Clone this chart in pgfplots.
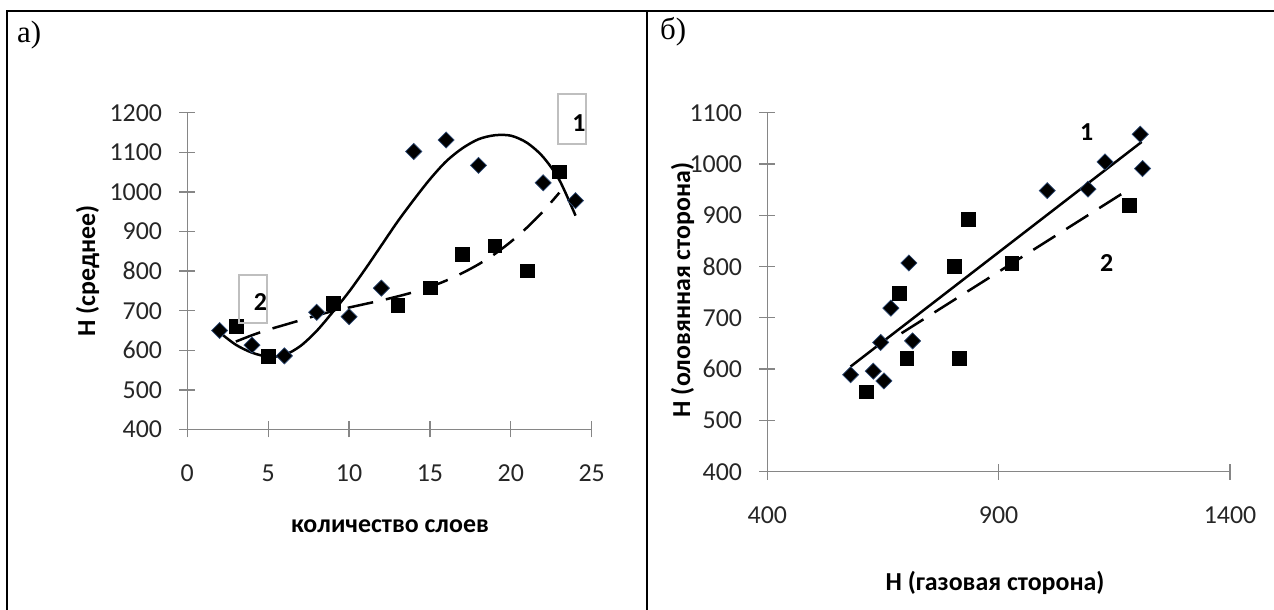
\documentclass[border=0pt]{standalone}
\usepackage{fontspec}
\setmainfont{Carlito}
\newfontfamily\timesf{Liberation Serif}
\usepackage{pgfplots}
\pgfplotsset{compat=1.18}
\definecolor{axgray}{HTML}{868686}
\definecolor{boxgray}{HTML}{BFBFBF}
\definecolor{dedge}{HTML}{2E4A75}
\pgfplotsset{
  excelaxis/.style={
    scale only axis, axis lines*=left,
    axis line style={axgray, line width=1.3bp},
    major tick style={axgray, line width=1.3bp},
    tick align=center, major tick length=16bp,
    minor tick num=0,
    ticklabel style={font=\fontsize{26}{26}\selectfont, inner sep=0pt, text=black!85},
    /pgf/number format/assume math mode=true,
    /pgf/number format/1000 sep={},
    clip=false,
  },
  diam/.style={only marks, mark=square*, mark size=5.7bp,
    mark options={rotate=45, fill=black, draw=dedge, line width=0.7bp}},
  sqr/.style={only marks, mark=square*, mark size=6.9bp,
    mark options={fill=black, draw=black, line width=0.3bp}},
  trsolid/.style={no marks, black, line width=2.5bp},
  trdash/.style={no marks, black, line width=2.5bp, dash pattern=on 26bp off 13bp},
}
\begin{document}
\begin{tikzpicture}[x=1bp,y=1bp]
\useasboundingbox (0,0) rectangle (1274,610);
\clip (0,0) rectangle (1274,610);
% frame
\draw[line width=2.6bp] (7,-10) -- (7,599) -- (1290,599);
\draw[line width=2.6bp] (647,599) -- (647,-10);
\node[anchor=base west, inner sep=0pt, font=\timesf\fontsize{31}{31}\selectfont] at (17,567) {а)};
\node[anchor=base west, inner sep=0pt, font=\timesf\fontsize{31}{31}\selectfont] at (660,570) {б)};

% ---------- left chart ----------
\begin{axis}[excelaxis, at={(187.3bp,180.5bp)}, anchor=south west,
  width=404.4bp, height=316.8bp,
  xmin=0, xmax=25, ymin=400, ymax=1200,
  xtick={0,5,10,15,20,25}, ytick={400,500,...,1200},
  xticklabel shift=27bp, yticklabel shift=17bp]
\addplot[diam] coordinates {(2,650) (4,613) (6,586) (8,696) (10,685) (12,757) (14,1102) (16,1131) (18,1067) (22,1023) (24,978)};
\addplot[sqr] coordinates {(3,660) (5,586) (9,719) (13,714) (15,758) (17,843) (19,864) (21,801) (23,1051)};
\addplot[trsolid, smooth] coordinates {(2,645) (3,614) (4,594) (5,584) (6,588) (7,611) (8,649) (9,697) (10,748) (11,805) (12,865) (13,925) (14,980) (15,1032) (16,1077) (17,1110) (18,1133) (19,1143) (20,1142) (21,1124) (22,1088) (23,1030) (24,940)};
\addplot[trdash, smooth] coordinates {(3,622) (4,638) (5,652) (6,664) (7,676) (8,688) (9,699) (10,708) (11,717) (12,726) (13,736) (14,747) (15,760) (16,776) (17,795) (18,817) (19,843) (20,874) (21,910) (22,951) (23,998)};
\end{axis}
\draw[boxgray, line width=1.8bp] (558,466) rectangle (586,516);
\draw[boxgray, line width=1.8bp] (239,287) rectangle (267,335);
\node[font=\bfseries\fontsize{26}{26}\selectfont] at (579,486.5) {1};
\node[font=\bfseries\fontsize{26}{26}\selectfont] at (260.5,307.5) {2};
\node[rotate=90, anchor=base, inner sep=0pt, font=\bfseries\fontsize{26}{26}\selectfont] at (95,339) {Н (среднее)};
\node[anchor=base, inner sep=0pt, font=\bfseries\fontsize{26}{26}\selectfont] at (390,77) {количество слоев};

% ---------- right chart ----------
\begin{axis}[excelaxis, at={(767.3bp,138.3bp)}, anchor=south west,
  width=462.7bp, height=359bp,
  xmin=400, xmax=1400, ymin=400, ymax=1100,
  xtick={400,900,1400}, ytick={400,500,...,1100},
  xticklabel shift=27bp, yticklabel shift=17bp]
\addplot[diam] coordinates {(580,589) (629,596) (652,577) (645,652) (714,655) (667,719) (706,807) (1005,948) (1093,951) (1130,1004) (1206,1058) (1211,991)};
\addplot[sqr] coordinates {(613,556) (701,621) (815,621) (685,748) (804,800) (834,892) (928,806) (1182,920)};
\addplot[trsolid] coordinates {(580,605) (1209,1043)};
\addplot[trdash] coordinates {(690,670) (1184,952)};
\end{axis}
\node[font=\bfseries\fontsize{26}{26}\selectfont] at (1086.7,478.3) {1};
\node[font=\bfseries\fontsize{26}{26}\selectfont] at (1106.7,347.3) {2};
\node[rotate=90, anchor=base, inner sep=0pt, font=\bfseries\fontsize{26}{26}\selectfont] at (690,320) {Н (оловянная сторона)};
\node[anchor=base, inner sep=0pt, font=\bfseries\fontsize{26}{26}\selectfont] at (995,19.3) {Н (газовая сторона)};
\end{tikzpicture}
\end{document}
